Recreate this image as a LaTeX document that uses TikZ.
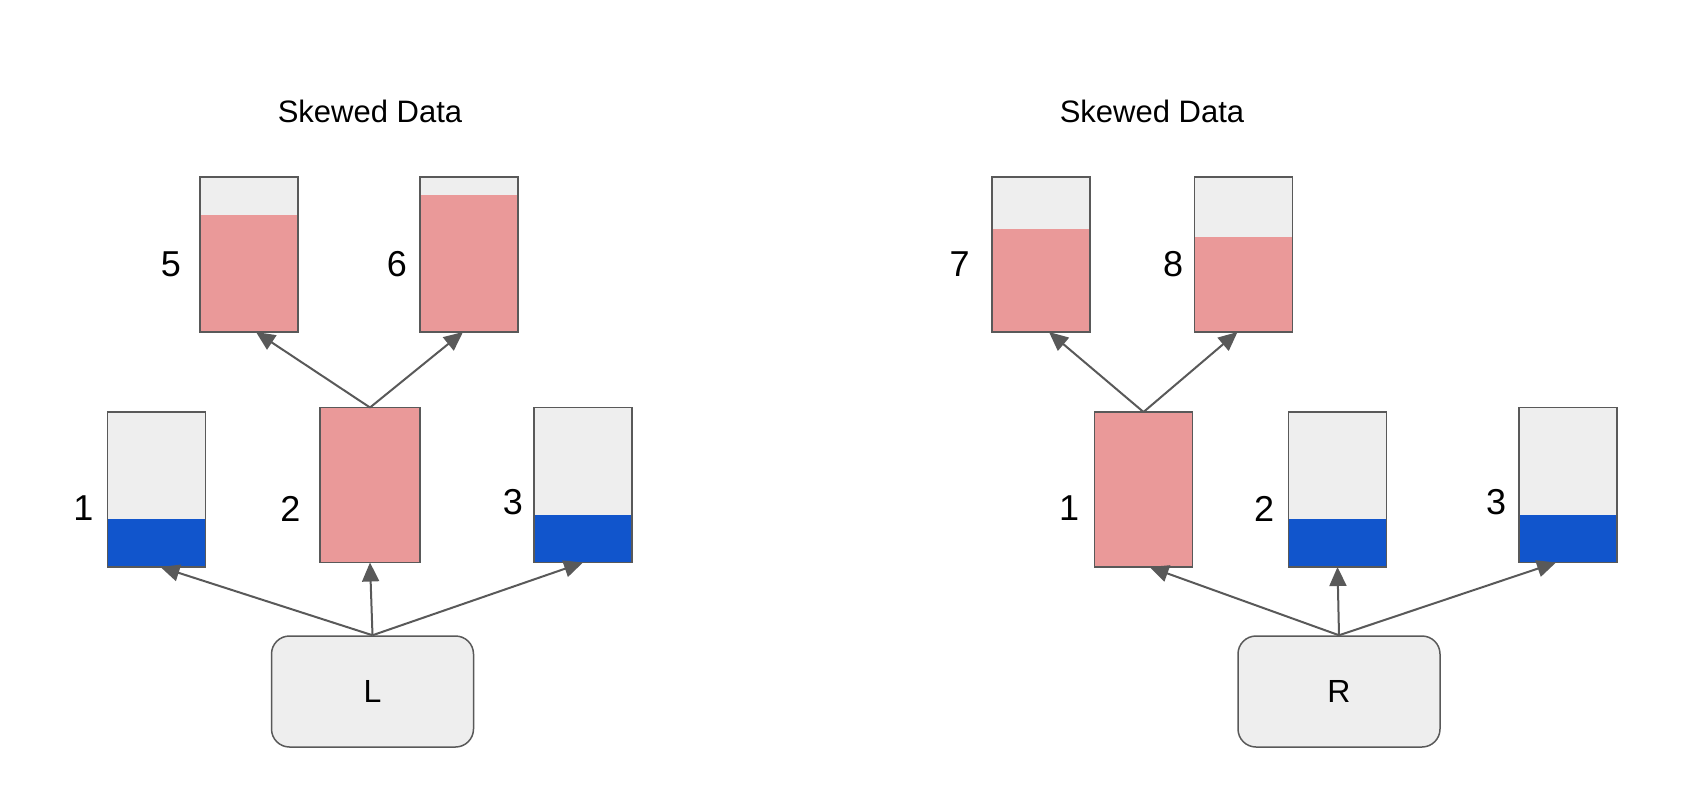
\documentclass[tikz,border=0pt]{standalone}
\usepackage{fontspec}
\setmainfont{Liberation Sans}
\usetikzlibrary{arrows.meta}
\definecolor{edge}{HTML}{595959}
\definecolor{graybg}{HTML}{EEEEEE}
\definecolor{pinkc}{HTML}{EA9999}
\definecolor{bluec}{HTML}{1155CC}
\tikzset{
  bucket/.style={draw=edge, line width=1.5pt, fill=graybg, minimum width=98pt, minimum height=155pt, inner sep=0pt, outer sep=0pt},
  fullpink/.style={bucket, fill=pinkc},
  level/.style 2 args={path picture={\fill[#1] (path picture bounding box.south west) rectangle ([yshift=-#2]path picture bounding box.north east);}},
  root/.style={draw=edge, line width=1.5pt, fill=graybg, rounded corners=18pt, minimum width=202pt, minimum height=111pt, inner sep=0pt, font=\fontsize{32}{38}\selectfont},
  num/.style={font=\fontsize{36}{42}\selectfont, inner sep=0pt},
  title/.style={font=\fontsize{31}{37}\selectfont, inner sep=0pt},
  conn/.style={draw=edge, line width=2pt, -{Triangle[length=19pt,width=17pt]}}
}
\begin{document}
\begin{tikzpicture}[x=1pt,y=-1pt]
\useasboundingbox (0,0) rectangle (1700,803);
% left
\node[title] (tl) at (370,111) {Skewed Data};
\node[bucket, level={pinkc}{38pt}] (b5) at (249,254.5) {};
\node[bucket, level={pinkc}{18pt}] (b6) at (469,254.5) {};
\node[bucket, level={bluec}{107pt}] (l1) at (156.5,489.5) {};
\node[fullpink, minimum width=100pt] (l2) at (370,485) {};
\node[bucket, level={bluec}{107pt}] (l3) at (583,485) {};
\node[root] (L) at (372.5,691.5) {L};
\node[num] (n5) at (171,264.5) {5};
\node[num] (n6) at (397,264.5) {6};
\node[num] (n1l) at (83.5,508.5) {1};
\node[num] (n2l) at (290.5,508.5) {2};
\node[num] (n3l) at (513,502) {3};
\draw[conn] (l2.north) -- ([xshift=7pt]b5.south);
\draw[conn] (l2.north) -- ([xshift=-6pt]b6.south);
\draw[conn] (L.north) -- ([xshift=4pt]l1.south);
\draw[conn] (L.north) -- (l2.south);
\draw[conn] (L.north) -- (l3.south);
% right
\node[title] (tr) at (1152,111) {Skewed Data};
\node[bucket, level={pinkc}{52pt}] (b7) at (1041,254.5) {};
\node[bucket, level={pinkc}{60pt}] (b8) at (1243.5,254.5) {};
\node[fullpink] (r1) at (1143.5,489.5) {};
\node[bucket, level={bluec}{107pt}] (r2) at (1337.5,489.5) {};
\node[bucket, level={bluec}{107pt}] (r3) at (1568,485) {};
\node[root] (R) at (1339,691.5) {R};
\node[num] (n7) at (959.5,264.5) {7};
\node[num] (n8) at (1173,264.5) {8};
\node[num] (n1r) at (1069,508.5) {1};
\node[num] (n2r) at (1264,508.5) {2};
\node[num] (n3r) at (1496,502) {3};
\draw[conn] (r1.north) -- ([xshift=8pt]b7.south);
\draw[conn] (r1.north) -- ([xshift=-6pt]b8.south);
\draw[conn] (R.north) -- ([xshift=6pt]r1.south);
\draw[conn] (R.north) -- (r2.south);
\draw[conn] (R.north) -- ([xshift=-12pt]r3.south);
\end{tikzpicture}
\end{document}
